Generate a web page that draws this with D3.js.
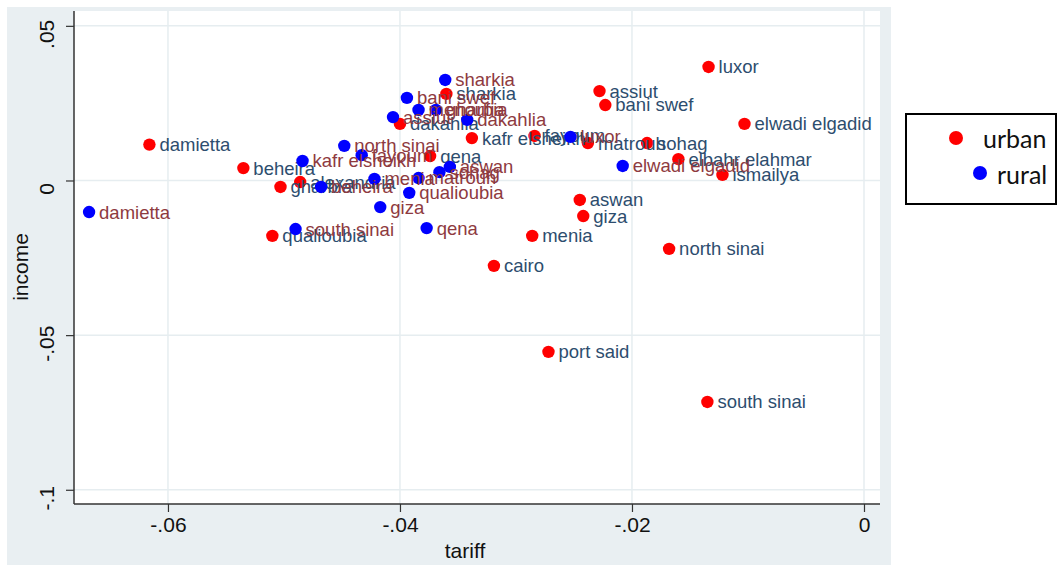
<!DOCTYPE html>
<html>
<head>
<meta charset="utf-8">
<script src="https://cdn.jsdelivr.net/npm/d3@7/dist/d3.min.js"></script>
<style>
  html, body { margin: 0; padding: 0; background: #ffffff; }
  svg { display: block; }
</style>
</head>
<body>
<svg id="chart" width="1060" height="565"></svg>
<script>
// Urban governorates
const urbanNames = ["damietta","beheira","gharbia","qualioubia","alexandria","dakahlia","sharkia",
  "kafr elsheikh","qena","fayoum","matrouh","assiut","bani swef","sohag","luxor","elwadi elgadid",
  "elbahr elahmar","ismailya","aswan","giza","menia","cairo","north sinai","port said","south sinai"];
const urbanTariff = [-0.0616,-0.0535,-0.0503,-0.0510,-0.0486,-0.0400,-0.0360,
  -0.0338,-0.0374,-0.0284,-0.0238,-0.0228,-0.0223,-0.0187,-0.0134,-0.0103,
  -0.0160,-0.0122,-0.0245,-0.0242,-0.0286,-0.0319,-0.0168,-0.0272,-0.0135];
const urbanIncome = [0.0116,0.0040,-0.0021,-0.0179,-0.0005,0.0183,0.0280,
  0.0137,0.0079,0.0144,0.0121,0.0289,0.0244,0.0121,0.0367,0.0183,
  0.0069,0.0018,-0.0063,-0.0115,-0.0179,-0.0276,-0.0221,-0.0554,-0.0716];

// Rural governorates
const ruralNames = ["damietta","sharkia","bani swef","menoufia","gharbia","assiut","dakahlia",
  "kafr elsheikh","north sinai","fayoum","beheira","menia","matrouh","sohag","aswan",
  "qualioubia","giza","south sinai","qena","luxor","elwadi elgadid"];
const ruralTariff = [-0.0668,-0.0361,-0.0394,-0.0384,-0.0369,-0.0406,-0.0342,
  -0.0484,-0.0448,-0.0433,-0.0468,-0.0422,-0.0384,-0.0366,-0.0357,
  -0.0392,-0.0417,-0.0490,-0.0377,-0.0253,-0.0208];
const ruralIncome = [-0.0102,0.0325,0.0267,0.0228,0.0228,0.0205,0.0196,
  0.0063,0.0112,0.0082,-0.0021,0.0005,0.0008,0.0027,0.0044,
  -0.0040,-0.0086,-0.0157,-0.0154,0.0141,0.0047];

const xTicks = [-0.06, -0.04, -0.02, 0];
const xTickLabels = ["-.06", "-.04", "-.02", "0"];
const yTicks = [-0.1, -0.05, 0, 0.05];
const yTickLabels = ["-.1", "-.05", "0", ".05"];

const seriesNames = ["urban", "rural"];
const seriesColors = ["#ff0000", "#0000ff"];
const labelColors = ["#2d4d6e", "#8e3a40"];

const svg = d3.select("#chart");

// graph region and plot region
const plot = { left: 74, right: 880, top: 11, bottom: 504 };
svg.append("rect").attr("x", 7).attr("y", 7).attr("width", 884).attr("height", 560)
  .attr("fill", "#e9eff2");
svg.append("rect").attr("x", plot.left).attr("y", plot.top)
  .attr("width", plot.right - plot.left).attr("height", plot.bottom - plot.top)
  .attr("fill", "#ffffff");

const x = d3.scaleLinear().domain([-0.0681, 0.00138]).range([plot.left, plot.right]);
const y = d3.scaleLinear().domain([-0.1046, 0.0548]).range([plot.bottom, plot.top]);

// grid
const grid = svg.append("g").attr("stroke", "#e6edf0").attr("stroke-width", 1.5);
grid.selectAll("line.h").data(yTicks).join("line")
  .attr("x1", plot.left).attr("x2", plot.right)
  .attr("y1", d => y(d)).attr("y2", d => y(d));
grid.selectAll("line.v").data(xTicks).join("line")
  .attr("y1", plot.top).attr("y2", plot.bottom)
  .attr("x1", d => x(d)).attr("x2", d => x(d));

// axes
const axisFont = "'Liberation Sans', Arial, sans-serif";
const xAxis = d3.axisBottom(x).tickValues(xTicks).tickSize(8).tickPadding(5)
  .tickFormat((d, i) => xTickLabels[i]);
const gx = svg.append("g").attr("transform", `translate(0,${plot.bottom})`).call(xAxis);
gx.select(".domain").remove();
gx.selectAll(".tick line").attr("stroke", "#333").attr("stroke-width", 1.2);
gx.selectAll(".tick text").attr("font-family", axisFont).attr("font-size", 21)
  .attr("fill", "#111");

const yAxis = d3.axisLeft(y).tickValues(yTicks).tickSize(8).tickPadding(0)
  .tickFormat((d, i) => yTickLabels[i]);
const gy = svg.append("g").attr("transform", `translate(${plot.left},0)`).call(yAxis);
gy.select(".domain").remove();
gy.selectAll(".tick line").attr("stroke", "#333").attr("stroke-width", 1.2);
gy.selectAll(".tick text")
  .attr("font-family", axisFont).attr("font-size", 21).attr("fill", "#111")
  .attr("text-anchor", "middle").attr("dy", 0)
  .attr("transform", "translate(-20,0) rotate(-90)");

svg.append("line").attr("x1", plot.left).attr("x2", plot.left)
  .attr("y1", plot.top).attr("y2", plot.bottom).attr("stroke", "#333").attr("stroke-width", 1.5);
svg.append("line").attr("x1", plot.left).attr("x2", plot.right)
  .attr("y1", plot.bottom).attr("y2", plot.bottom).attr("stroke", "#333").attr("stroke-width", 1.5);

svg.append("text").attr("x", (plot.left + plot.right) / 2 - 12).attr("y", 558)
  .attr("text-anchor", "middle").attr("font-family", axisFont).attr("font-size", 21)
  .attr("fill", "#111").text("tariff");
svg.append("text").attr("transform", "translate(28,267) rotate(-90)")
  .attr("text-anchor", "middle").attr("font-family", axisFont).attr("font-size", 21)
  .attr("fill", "#111").text("income");

// markers with labels, one series after the other
const series = [
  urbanNames.map((n, i) => ({ name: n, t: urbanTariff[i], v: urbanIncome[i] })),
  ruralNames.map((n, i) => ({ name: n, t: ruralTariff[i], v: ruralIncome[i] }))
];
series.forEach((pts, s) => {
  const g = svg.append("g");
  g.selectAll("circle").data(pts).join("circle")
    .attr("cx", d => x(d.t)).attr("cy", d => y(d.v)).attr("r", 6.2)
    .attr("fill", seriesColors[s]);
  g.selectAll("text").data(pts).join("text")
    .attr("x", d => x(d.t) + 10).attr("y", d => y(d.v)).attr("dy", "0.35em")
    .attr("font-family", axisFont).attr("font-size", 18.5)
    .attr("fill", labelColors[s]).text(d => d.name);
});

// legend
const lg = svg.append("g");
lg.append("rect").attr("x", 906).attr("y", 114).attr("width", 150).attr("height", 90)
  .attr("fill", "#fff").attr("stroke", "#000").attr("stroke-width", 2);
const legendPos = [{ cx: 956, cy: 138, tx: 983, ty: 148 }, { cx: 980, cy: 173, tx: 997, ty: 184 }];
seriesNames.forEach((n, i) => {
  lg.append("circle").attr("cx", legendPos[i].cx).attr("cy", legendPos[i].cy).attr("r", 7)
    .attr("fill", seriesColors[i]);
  lg.append("text").attr("x", legendPos[i].tx).attr("y", legendPos[i].ty)
    .attr("font-family", "Lato, 'Open Sans', sans-serif").attr("font-size", 25)
    .attr("fill", "#111").text(n);
});
</script>
</body>
</html>
